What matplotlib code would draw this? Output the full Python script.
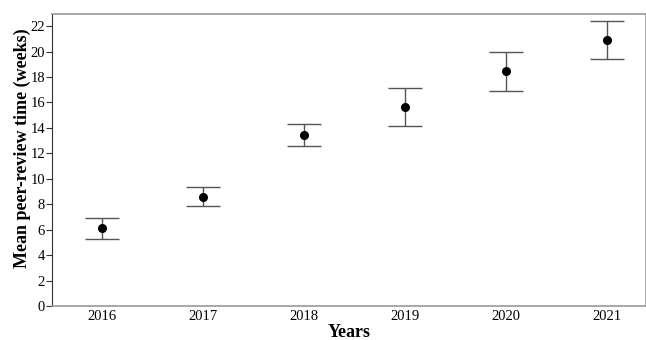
import matplotlib
matplotlib.use("Agg")
import matplotlib.pyplot as plt

years = ["2016", "2017", "2018", "2019", "2020", "2021"]
mean_weeks = [6.1, 8.6, 13.45, 15.65, 18.45, 20.9]
ci_low = [5.3, 7.85, 12.6, 14.15, 16.9, 19.4]
ci_high = [6.9, 9.35, 14.3, 17.1, 20.0, 22.4]

plt.rcParams["font.family"] = ["Liberation Serif", "DejaVu Serif"]

fig = plt.figure(figsize=(6.46, 3.40), dpi=100)
ax = fig.add_axes([52 / 646, 34 / 340, 594 / 646, 292 / 340])

x = list(range(len(years)))
yerr = [[m - lo for m, lo in zip(mean_weeks, ci_low)],
        [hi - m for m, hi in zip(mean_weeks, ci_high)]]
ax.errorbar(x, mean_weeks, yerr=yerr, fmt="o", color="black", markersize=5.5,
            ecolor="#555555", elinewidth=1.0, capsize=12, capthick=1.0)

ax.set_xlim(-0.5, 5.39)
ax.set_ylim(0, 22.95)
ax.set_yticks(range(0, 23, 2))
ax.set_xticks(x)
ax.set_xticklabels(years)
ax.tick_params(axis="y", length=4, width=0.8, labelsize=10.5, pad=1, color="#333333")
ax.tick_params(axis="x", length=0, labelsize=10.5, pad=3)

for side in ("top", "bottom", "right"):
    ax.spines[side].set_color("#999999")
    ax.spines[side].set_linewidth(1.2)
ax.spines["left"].set_color("#333333")
ax.spines["left"].set_linewidth(0.8)

ax.set_ylabel("Mean peer-review time (weeks)", fontsize=13, fontweight="bold")
ax.yaxis.set_label_coords(-0.036, 0.54)
ax.set_xlabel("Years", fontsize=13, fontweight="bold")
ax.xaxis.set_label_coords(0.5, -0.062)

fig.savefig("out.png")
